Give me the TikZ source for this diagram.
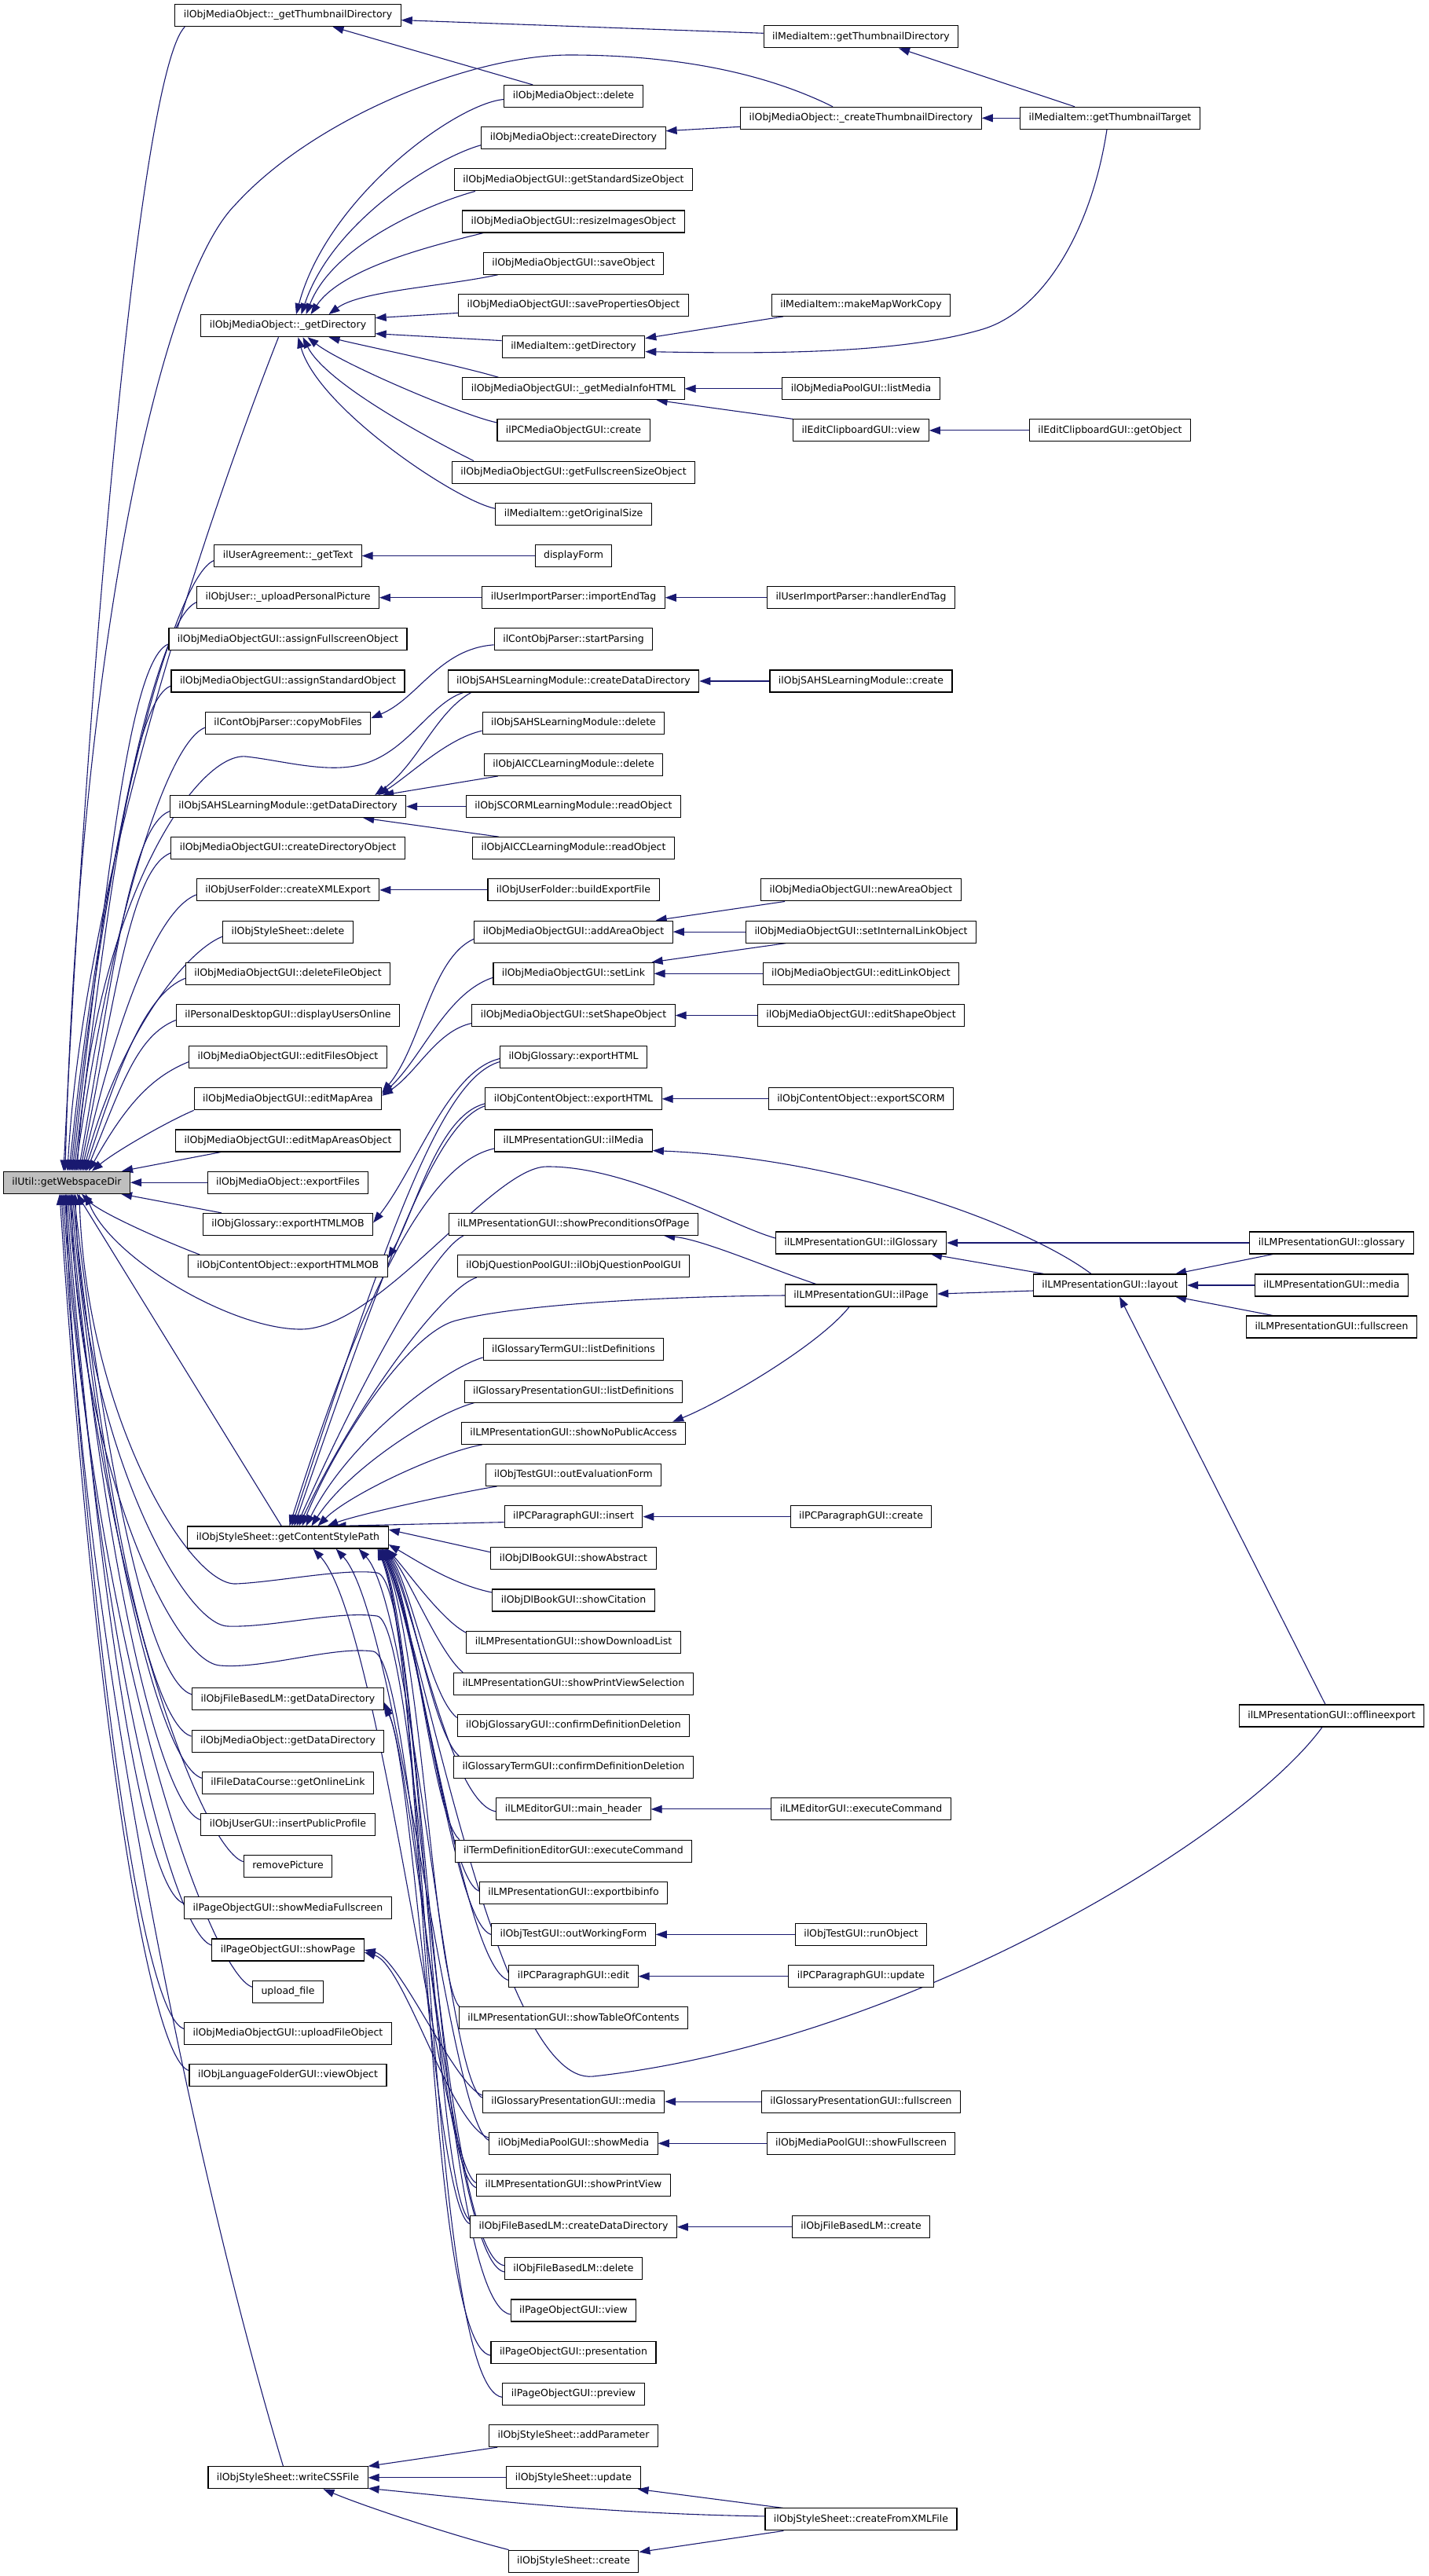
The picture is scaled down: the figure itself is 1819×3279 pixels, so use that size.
\documentclass[tikz,border=0pt]{standalone}
\usepackage{fontspec}
\newfontfamily\dvs{DejaVu Sans}
\usetikzlibrary{arrows.meta,calc,backgrounds}
\definecolor{eblue}{HTML}{191970}
\definecolor{ngray}{HTML}{BFBFBF}
\begin{document}
\begin{tikzpicture}[x=1pt,y=-1pt,
  fn/.style={draw=black, line width=1.1pt, fill=white, font=\dvs\fontsize{12.5pt}{15pt}\selectfont,
    inner xsep=11pt, inner ysep=0pt, minimum height=28pt, text height=9.5pt, text depth=3pt},
  hl/.style={fn, fill=ngray},
  e/.style={draw=eblue, line width=1.1pt, -{Triangle[length=14pt,width=10pt]}}]
\useasboundingbox (0,0) rectangle (1819,3279);
% ---------- column 1
\node[hl] (util) at (85,1505.2) {ilUtil::getWebspaceDir};
% ---------- column 2
\node[fn] (gtd) at (366.5,19.6) {ilObjMediaObject::\_getThumbnailDirectory};
\node[fn] (gd) at (366.5,414.7) {ilObjMediaObject::\_getDirectory};
\node[fn] (uaText) at (366.5,707.5) {ilUserAgreement::\_getText};
\node[fn] (upPic) at (366.5,760.7) {ilObjUser::\_uploadPersonalPicture};
\node[fn] (asFull) at (366.5,813.8) {ilObjMediaObjectGUI::assignFullscreenObject};
\node[fn] (asStd) at (366.5,867.0) {ilObjMediaObjectGUI::assignStandardObject};
\node[fn] (copyMob) at (366.5,920.2) {ilContObjParser::copyMobFiles};
\node[fn] (sahsGDD) at (366.5,1026.6) {ilObjSAHSLearningModule::getDataDirectory};
\node[fn] (crDirObj) at (366.5,1079.7) {ilObjMediaObjectGUI::createDirectoryObject};
\node[fn] (crXML) at (366.5,1132.9) {ilObjUserFolder::createXMLExport};
\node[fn] (ssDel) at (366.5,1186.1) {ilObjStyleSheet::delete};
\node[fn] (delFile) at (366.5,1239.3) {ilObjMediaObjectGUI::deleteFileObject};
\node[fn] (dispUsers) at (366.5,1292.5) {ilPersonalDesktopGUI::displayUsersOnline};
\node[fn] (editFiles) at (366.5,1345.6) {ilObjMediaObjectGUI::editFilesObject};
\node[fn] (editMap) at (366.5,1398.8) {ilObjMediaObjectGUI::editMapArea};
\node[fn] (editMaps) at (366.5,1452.0) {ilObjMediaObjectGUI::editMapAreasObject};
\node[fn] (expFiles) at (366.5,1505.2) {ilObjMediaObject::exportFiles};
\node[fn] (gHM) at (366.5,1558.4) {ilObjGlossary::exportHTMLMOB};
\node[fn] (cHM) at (366.5,1611.5) {ilObjContentObject::exportHTMLMOB};
\node[fn] (gcsp) at (366.5,1957.0) {ilObjStyleSheet::getContentStylePath};
\node[fn] (fbGDD) at (366.5,2162.9) {ilObjFileBasedLM::getDataDirectory};
\node[fn] (moGDD) at (366.5,2216.1) {ilObjMediaObject::getDataDirectory};
\node[fn] (onLink) at (366.5,2269.3) {ilFileDataCourse::getOnlineLink};
\node[fn] (insPP) at (366.5,2322.5) {ilObjUserGUI::insertPublicProfile};
\node[fn] (remPic) at (366.5,2375.7) {removePicture};
\node[fn] (showMF) at (366.5,2428.8) {ilPageObjectGUI::showMediaFullscreen};
\node[fn] (showPage) at (366.5,2482.0) {ilPageObjectGUI::showPage};
\node[fn] (upFile) at (366.5,2535.2) {upload\_file};
\node[fn] (upFO) at (366.5,2588.4) {ilObjMediaObjectGUI::uploadFileObject};
\node[fn] (viewObj) at (366.5,2641.6) {ilObjLanguageFolderGUI::viewObject};
\node[fn] (css) at (366.5,3153.8) {ilObjStyleSheet::writeCSSFile};
% ---------- column 3
\node[fn] (moDel) at (730,122.5) {ilObjMediaObject::delete};
\node[fn] (moCrDir) at (730,175.7) {ilObjMediaObject::createDirectory};
\node[fn] (getStd) at (730,228.9) {ilObjMediaObjectGUI::getStandardSizeObject};
\node[fn] (resize) at (730,282.0) {ilObjMediaObjectGUI::resizeImagesObject};
\node[fn] (saveObj) at (730,335.2) {ilObjMediaObjectGUI::saveObject};
\node[fn] (saveProp) at (730,388.4) {ilObjMediaObjectGUI::savePropertiesObject};
\node[fn] (miGetDir) at (730,441.6) {ilMediaItem::getDirectory};
\node[fn] (mInfo) at (730,494.8) {ilObjMediaObjectGUI::\_getMediaInfoHTML};
\node[fn] (pcmCreate) at (730,547.9) {ilPCMediaObjectGUI::create};
\node[fn] (getFull) at (730,601.1) {ilObjMediaObjectGUI::getFullscreenSizeObject};
\node[fn] (origSize) at (730,654.3) {ilMediaItem::getOriginalSize};
\node[fn] (dispForm) at (730,707.5) {displayForm};
\node[fn] (impEnd) at (730,760.7) {ilUserImportParser::importEndTag};
\node[fn] (startParse) at (730,813.8) {ilContObjParser::startParsing};
\node[fn] (sahsCDD) at (730,867.0) {ilObjSAHSLearningModule::createDataDirectory};
\node[fn] (sahsDel) at (730,920.2) {ilObjSAHSLearningModule::delete};
\node[fn] (aiccDel) at (730,973.4) {ilObjAICCLearningModule::delete};
\node[fn] (scormRead) at (730,1026.6) {ilObjSCORMLearningModule::readObject};
\node[fn] (aiccRead) at (730,1079.7) {ilObjAICCLearningModule::readObject};
\node[fn] (buildExp) at (730,1132.9) {ilObjUserFolder::buildExportFile};
\node[fn] (addArea) at (730,1186.1) {ilObjMediaObjectGUI::addAreaObject};
\node[fn] (setLink) at (730,1239.3) {ilObjMediaObjectGUI::setLink};
\node[fn] (setShape) at (730,1292.5) {ilObjMediaObjectGUI::setShapeObject};
\node[fn] (glosExp) at (730,1345.6) {ilObjGlossary::exportHTML};
\node[fn] (coExp) at (730,1398.8) {ilObjContentObject::exportHTML};
\node[fn] (ilMedia) at (730,1452.0) {ilLMPresentationGUI::ilMedia};
\node[fn] (showPre) at (730,1558.4) {ilLMPresentationGUI::showPreconditionsOfPage};
\node[fn] (qpool) at (730,1611.5) {ilObjQuestionPoolGUI::ilObjQuestionPoolGUI};
\node[fn] (termList) at (730,1717.9) {ilGlossaryTermGUI::listDefinitions};
\node[fn] (gpList) at (730,1771.1) {ilGlossaryPresentationGUI::listDefinitions};
\node[fn] (noPub) at (730,1824.3) {ilLMPresentationGUI::showNoPublicAccess};
\node[fn] (outEval) at (730,1877.4) {ilObjTestGUI::outEvaluationForm};
\node[fn] (pcIns) at (730,1930.6) {ilPCParagraphGUI::insert};
\node[fn] (abstract) at (730,1983.8) {ilObjDlBookGUI::showAbstract};
\node[fn] (citation) at (730,2037.0) {ilObjDlBookGUI::showCitation};
\node[fn] (dlList) at (730,2090.2) {ilLMPresentationGUI::showDownloadList};
\node[fn] (pvSel) at (730,2143.3) {ilLMPresentationGUI::showPrintViewSelection};
\node[fn] (ogConf) at (730,2196.5) {ilObjGlossaryGUI::confirmDefinitionDeletion};
\node[fn] (gtConf) at (730,2249.7) {ilGlossaryTermGUI::confirmDefinitionDeletion};
\node[fn] (mainHead) at (730,2302.9) {ilLMEditorGUI::main\_header};
\node[fn] (tdExec) at (730,2356.1) {ilTermDefinitionEditorGUI::executeCommand};
\node[fn] (bib) at (730,2409.2) {ilLMPresentationGUI::exportbibinfo};
\node[fn] (outWork) at (730,2462.4) {ilObjTestGUI::outWorkingForm};
\node[fn] (pcEdit) at (730,2515.6) {ilPCParagraphGUI::edit};
\node[fn] (toc) at (730,2568.8) {ilLMPresentationGUI::showTableOfContents};
\node[fn] (gpMedia) at (730,2675.1) {ilGlossaryPresentationGUI::media};
\node[fn] (mpShow) at (730,2728.3) {ilObjMediaPoolGUI::showMedia};
\node[fn] (printView) at (730,2781.5) {ilLMPresentationGUI::showPrintView};
\node[fn] (fbCDD) at (730,2834.7) {ilObjFileBasedLM::createDataDirectory};
\node[fn] (fbDel) at (730,2887.9) {ilObjFileBasedLM::delete};
\node[fn] (poView) at (730,2941.0) {ilPageObjectGUI::view};
\node[fn] (poPres) at (730,2994.2) {ilPageObjectGUI::presentation};
\node[fn] (poPrev) at (730,3047.4) {ilPageObjectGUI::preview};
\node[fn] (addParam) at (730,3100.6) {ilObjStyleSheet::addParameter};
\node[fn] (ssUpd) at (730,3153.8) {ilObjStyleSheet::update};
\node[fn] (ssCreate) at (730,3260.1) {ilObjStyleSheet::create};
% ---------- column 4
\node[fn] (miGTD) at (1096,46.8) {ilMediaItem::getThumbnailDirectory};
\node[fn] (moCTD) at (1096,150.3) {ilObjMediaObject::\_createThumbnailDirectory};
\node[fn] (mapCopy) at (1096,388.4) {ilMediaItem::makeMapWorkCopy};
\node[fn] (listMedia) at (1096,494.8) {ilObjMediaPoolGUI::listMedia};
\node[fn] (clipView) at (1096,547.9) {ilEditClipboardGUI::view};
\node[fn] (handlerEnd) at (1096,760.7) {ilUserImportParser::handlerEndTag};
\node[fn] (sahsCreate) at (1096,867.0) {ilObjSAHSLearningModule::create};
\node[fn] (newArea) at (1096,1132.9) {ilObjMediaObjectGUI::newAreaObject};
\node[fn] (setIntLink) at (1096,1186.1) {ilObjMediaObjectGUI::setInternalLinkObject};
\node[fn] (editLink) at (1096,1239.3) {ilObjMediaObjectGUI::editLinkObject};
\node[fn] (editShape) at (1096,1292.5) {ilObjMediaObjectGUI::editShapeObject};
\node[fn] (expScorm) at (1096,1398.8) {ilObjContentObject::exportSCORM};
\node[fn] (ilGloss) at (1096,1582) {ilLMPresentationGUI::ilGlossary};
\node[fn] (ilPage) at (1096,1649) {ilLMPresentationGUI::ilPage};
\node[fn] (pcCreate) at (1096,1930.6) {ilPCParagraphGUI::create};
\node[fn] (edExec) at (1096,2302.9) {ilLMEditorGUI::executeCommand};
\node[fn] (runObj) at (1096,2462.4) {ilObjTestGUI::runObject};
\node[fn] (pcUpd) at (1096,2515.6) {ilPCParagraphGUI::update};
\node[fn] (gpFull) at (1096,2675.1) {ilGlossaryPresentationGUI::fullscreen};
\node[fn] (mpFull) at (1096,2728.3) {ilObjMediaPoolGUI::showFullscreen};
\node[fn] (fbCreate) at (1096,2834.7) {ilObjFileBasedLM::create};
\node[fn] (fromXML) at (1096,3206.9) {ilObjStyleSheet::createFromXMLFile};
% ---------- column 5
\node[fn] (gtt) at (1413,150.3) {ilMediaItem::getThumbnailTarget};
\node[fn] (clipGet) at (1413,547.9) {ilEditClipboardGUI::getObject};
\node[fn] (layout) at (1413,1636) {ilLMPresentationGUI::layout};
% ---------- column 6
\node[fn] (lmGloss) at (1695,1582) {ilLMPresentationGUI::glossary};
\node[fn] (lmMedia) at (1695,1636) {ilLMPresentationGUI::media};
\node[fn] (lmFull) at (1695,1689) {ilLMPresentationGUI::fullscreen};
\node[fn] (offline) at (1695,2184) {ilLMPresentationGUI::offlineexport};

\begin{pgfonlayer}{background}
% ---------- top group
\draw[e] ($(miGTD.west)+(0,-4.5)$) -- ($(gtd.east)+(0,6)$);
\draw[e] ($(moDel.north west)+(37,0)$) -- ($(gtd.south)+(57,0)$);
\draw[e] ($(gtt.north)+(-45,0)$) -- ($(miGTD.south)+(48,0)$);
\draw[e] (gtt.west) -- (moCTD.east);
\draw[e] ($(moCTD.west)+(0,11)$) -- ($(moCrDir.east)+(0,-9)$);
\draw[e] ($(moCTD.north)+(-36,0)$) .. controls (970,91) and (855,70) .. (725,70) .. controls (600,70) and (400,150) .. (300,260) .. controls (200,360) and (100,850) .. ($(util.north west)+(79,0)$);
\draw[e] ($(gtd.south west)+(13,0)$) .. controls (180,90) and (115,800) .. ($(util.north west)+(77,0)$);
\draw[e] ($(gd.south)+(-12,0)$) .. controls (295,580) and (108,1091) .. ($(util.north west)+(82,0)$);
% ---------- callers of _getDirectory
\draw[e] ($(moDel.west)+(0,4)$) .. controls +(-60,5) and +(40,-150) .. ($(gd.north)+(10.5,0)$);
\draw[e] ($(moCrDir.west)+(0,9)$) .. controls +(-55,15) and +(40,-120) .. ($(gd.north)+(17,0)$);
\draw[e] ($(getStd.south west)+(27,0)$) .. controls +(-55,15) and +(35,-90) .. ($(gd.north)+(23,0)$);
\draw[e] ($(resize.south west)+(27,0)$) .. controls +(-60,15) and +(40,-60) .. ($(gd.north)+(29,0)$);
\draw[e] ($(saveObj.south west)+(19,0)$) .. controls +(-70,15) and +(40,-30) .. ($(gd.north)+(52,0)$);
\draw[e] ($(saveProp.west)+(0,10)$) -- ($(gd.east)+(0,-10)$);
\draw[e] ($(miGetDir.west)+(0,-8)$) -- ($(gd.east)+(0,10)$);
\draw[e] ($(mInfo.north west)+(46,0)$) .. controls +(-50,-15) and +(40,10) .. ($(gd.south)+(52,0)$);
\draw[e] ($(pcmCreate.west)+(0,-10)$) .. controls +(-40,-8) and +(45,35) .. ($(gd.south)+(25,0)$);
\draw[e] ($(getFull.north west)+(28,0)$) .. controls +(-50,-25) and +(30,60) .. ($(gd.south)+(19,0)$);
\draw[e] ($(origSize.west)+(0,-7)$) .. controls +(-50,-10) and +(25,90) .. ($(gd.south)+(13,0)$);
% ---------- ilMediaItem::getDirectory and friends
\draw[e] ($(mapCopy.south west)+(15,0)$) -- ($(miGetDir.east)+(0,-11)$);
\draw[e] ($(gtt.south)+(-4,0)$) .. controls (1390,290) and (1330,395) .. (1251,419) .. controls (1141,452) and (960,450) .. ($(miGetDir.east)+(0,6)$);
\draw[e] (listMedia.west) -- (mInfo.east);
\draw[e] (clipView.north west) -- ($(mInfo.south east)+(-36,0)$);
\draw[e] (clipGet.west) -- (clipView.east);
% ---------- rows 11-24
\draw[e] (dispForm.west) -- (uaText.east);
\draw[e] (impEnd.west) -- (upPic.east);
\draw[e] (handlerEnd.west) -- (impEnd.east);
\draw[e] ($(startParse.west)+(0,7)$) .. controls +(-70,5) and +(60,-25) .. ($(copyMob.east)+(0,-6)$);
\draw[e] ($(sahsCDD.south west)+(30,0)$) .. controls +(-45,25) and +(55,-40) .. ($(sahsGDD.north east)+(-40,0)$);
\draw[e] ($(sahsCDD.south west)+(20,0)$) .. controls (548,895) and (520,955) .. (464,972) .. controls (419,986) and (360,968) .. (313,963) .. controls (250,957) and (120,1150) .. ($(util.north west)+(94,0)$);
\draw[e] ($(sahsDel.west)+(0,10)$) .. controls +(-45,10) and +(40,-25) .. ($(sahsGDD.north east)+(-36,0)$);
\draw[e] ($(aiccDel.south west)+(18,0)$) -- ($(sahsGDD.north east)+(-30,0)$);
\draw[e] (scormRead.west) -- (sahsGDD.east);
\draw[e] ($(aiccRead.north west)+(34,0)$) -- ($(sahsGDD.south east)+(-55,0)$);
\draw[e] (sahsCreate.west) -- (sahsCDD.east);
\draw[e] (buildExp.west) -- (crXML.east);
\draw[e] ($(newArea.south west)+(31,0)$) -- ($(addArea.north east)+(-22,0)$);
\draw[e] (setIntLink.west) -- (addArea.east);
\draw[e] ($(setIntLink.south west)+(51,0)$) -- ($(setLink.north east)+(-3,0)$);
\draw[e] (editLink.west) -- (setLink.east);
\draw[e] (editShape.west) -- (setShape.east);
\draw[e] ($(addArea.west)+(0,9)$) .. controls +(-55,25) and +(50,-60) .. ($(editMap.east)+(0,-8)$);
\draw[e] ($(setLink.west)+(0,5)$) .. controls +(-60,20) and +(50,-45) .. ($(editMap.east)+(0,-6)$);
\draw[e] ($(setShape.west)+(0,10)$) .. controls +(-45,10) and +(45,-30) .. ($(editMap.east)+(0,-4)$);
\draw[e] ($(glosExp.west)+(0,2)$) .. controls +(-65,15) and +(55,-70) .. ($(gHM.east)+(0,-2)$);
\draw[e] ($(coExp.west)+(0,6)$) .. controls +(-60,15) and +(35,-60) .. ($(cHM.east)+(0,-10)$);
\draw[e] (expScorm.west) -- (coExp.east);
% ---------- upper col2 -> ilUtil
\draw[e] ($(uaText.west)+(0,6)$) .. controls +(-50,20) and +(45,-431) .. ($(util.north west)+(84,0)$);
\draw[e] ($(upPic.west)+(0,6)$) .. controls +(-50,20) and +(45,-402) .. ($(util.north west)+(86,0)$);
\draw[e] ($(asFull.west)+(0,6)$) .. controls +(-50,20) and +(45,-372) .. ($(util.north west)+(88,0)$);
\draw[e] ($(asStd.west)+(0,6)$) .. controls +(-50,20) and +(45,-343) .. ($(util.north west)+(90,0)$);
\draw[e] ($(copyMob.west)+(0,6)$) .. controls +(-50,20) and +(45,-314) .. ($(util.north west)+(92,0)$);
\draw[e] ($(sahsGDD.west)+(0,6)$) .. controls +(-50,20) and +(45,-255) .. ($(util.north west)+(96,0)$);
\draw[e] ($(crDirObj.west)+(0,6)$) .. controls +(-50,20) and +(45,-226) .. ($(util.north west)+(98,0)$);
\draw[e] ($(crXML.west)+(0,6)$) .. controls +(-50,20) and +(45,-197) .. ($(util.north west)+(100,0)$);
\draw[e] ($(ssDel.west)+(0,6)$) .. controls +(-50,20) and +(45,-168) .. ($(util.north west)+(102,0)$);
\draw[e] ($(delFile.west)+(0,6)$) .. controls +(-50,20) and +(45,-138) .. ($(util.north west)+(104,0)$);
\draw[e] ($(dispUsers.west)+(0,6)$) .. controls +(-50,20) and +(45,-109) .. ($(util.north west)+(106,0)$);
\draw[e] ($(editFiles.west)+(0,6)$) .. controls +(-50,20) and +(45,-80) .. ($(util.north west)+(109,0)$);
\draw[e] (editMap.south west) .. controls +(-35,15) and +(30,-25) .. ($(util.north west)+(113,0)$);
\draw[e] ($(editMaps.south west)+(58,0)$) -- ($(util.north east)+(-11,0)$);
\draw[e] (expFiles.west) -- (util.east);
\draw[e] ($(gHM.north west)+(24,0)$) -- ($(util.south east)+(-12,0)$);
\draw[e] ($(cHM.north west)+(15,0)$) .. controls +(-40,-15) and +(25,25) .. ($(util.south west)+(100,0)$);
\draw[e] ($(gcsp.north west)+(120,0)$) -- ($(util.south west)+(94,0)$);
% ---------- lower col2 -> ilUtil
\draw[e] ($(fbGDD.west)+(0,-6)$) .. controls +(-50,-15) and +(45,386) .. ($(util.south west)+(90,0)$);
\draw[e] ($(moGDD.west)+(0,-6)$) .. controls +(-50,-15) and +(45,418) .. ($(util.south west)+(88,0)$);
\draw[e] ($(onLink.west)+(0,-6)$) .. controls +(-50,-15) and +(45,450) .. ($(util.south west)+(86,0)$);
\draw[e] ($(insPP.west)+(0,-6)$) .. controls +(-50,-15) and +(45,482) .. ($(util.south west)+(84,0)$);
\draw[e] ($(remPic.west)+(0,-6)$) .. controls +(-50,-15) and +(45,514) .. ($(util.south west)+(82,0)$);
\draw[e] ($(showMF.west)+(0,-6)$) .. controls +(-50,-15) and +(45,546) .. ($(util.south west)+(80,0)$);
\draw[e] ($(showPage.west)+(0,-6)$) .. controls +(-50,-15) and +(45,578) .. ($(util.south west)+(78,0)$);
\draw[e] ($(upFile.west)+(0,-6)$) .. controls +(-50,-15) and +(45,610) .. ($(util.south west)+(76,0)$);
\draw[e] ($(upFO.west)+(0,-6)$) .. controls +(-50,-15) and +(45,642) .. ($(util.south west)+(74,0)$);
\draw[e] ($(viewObj.west)+(0,-6)$) .. controls +(-50,-15) and +(45,674) .. ($(util.south west)+(72,0)$);
\draw[e] ($(css.north)+(-6,0)$) .. controls (240,2740) and (95,2019) .. ($(util.south west)+(80,0)$);
% ---------- ilLMPresentationGUI group
\draw[e] ($(ilGloss.west)+(0,-6)$) .. controls (930,1560) and (800,1484) .. (696,1485) .. controls (626,1485) and (483,1692) .. (383,1692) .. controls (293,1692) and (140,1600) .. ($(util.south west)+(105,0)$);
\draw[e] ($(ilPage.north west)+(40,0)$) .. controls +(-60,-20) and +(50,5) .. ($(showPre.south east)+(-44,0)$);
\draw[e] ($(ilPage.south)+(-15,0)$) .. controls +(-40,50) and +(60,-24) .. ($(noPub.north east)+(-17,0)$);
\draw[e] ($(layout.north)+(-24,0)$) .. controls +(-80,-60) and +(250,10) .. ($(ilMedia.south east)+(0,-2)$);
\draw[e] ($(layout.north west)+(14,0)$) -- ($(ilGloss.south east)+(-20,0)$);
\draw[e] (lmGloss.west) -- (ilGloss.east);
\draw[e] ($(layout.west)+(0,7)$) -- ($(ilPage.east)+(0,-2)$);
\draw[e] ($(lmGloss.south west)+(30,0)$) -- ($(layout.north east)+(-15,0)$);
\draw[e] (lmMedia.west) -- (layout.east);
\draw[e] ($(lmFull.north west)+(34,0)$) -- ($(layout.south east)+(-15,0)$);
\draw[e] ($(offline.north)+(-8,0)$) -- ($(layout.south)+(12,0)$);
% ---------- getContentStylePath (from above)
\draw[e] ($(ilMedia.west)+(0,10)$) .. controls +(-70,15) and +(110,-350) .. ($(gcsp.north)+(2,0)$);
\draw[e] ($(glosExp.west)+(0,6)$) .. controls +(-70,20) and +(130,-400) .. ($(gcsp.north)+(5,0)$);
\draw[e] ($(coExp.west)+(0,9)$) .. controls +(-60,20) and +(120,-350) .. ($(gcsp.north)+(8,0)$);
\draw[e] ($(showPre.south west)+(19,0)$) .. controls +(-40,20) and +(80,-180) .. ($(gcsp.north)+(11,0)$);
\draw[e] ($(qpool.south west)+(25,0)$) .. controls +(-45,15) and +(70,-150) .. ($(gcsp.north)+(14,0)$);
\draw[e] (ilPage.west) .. controls (850,1650) and (660,1660) .. (580,1681) .. controls (520,1697) and (429.5,1833) .. ($(gcsp.north)+(18,0)$);
\draw[e] ($(termList.west)+(0,10)$) .. controls +(-50,15) and +(55,-110) .. ($(gcsp.north)+(23,0)$);
\draw[e] ($(gpList.south west)+(13,0)$) .. controls +(-55,15) and +(45,-70) .. ($(gcsp.north)+(30,0)$);
\draw[e] ($(noPub.south west)+(27,0)$) .. controls +(-55,10) and +(40,-40) .. ($(gcsp.north)+(38,0)$);
\draw[e] ($(outEval.south west)+(15,0)$) .. controls +(-50,8) and +(40,-15) .. ($(gcsp.north)+(50,0)$);
\draw[e] ($(pcIns.west)+(0,7)$) -- ($(gcsp.north)+(60,0)$);
\draw[e] (pcCreate.west) -- (pcIns.east);
\draw[e] ($(abstract.west)+(0,-8)$) -- ($(gcsp.east)+(0,-10)$);
\draw[e] ($(citation.west)+(0,-10)$) .. controls +(-50,-10) and +(35,20) .. ($(gcsp.east)+(0,9)$);
% ---------- getContentStylePath (from below)
\draw[e] ($(offline.south)+(-12,0)$) .. controls (1580,2340) and (1150,2600) .. (755,2643) .. controls (635,2656) and (540,2100) .. ($(gcsp.south east)+(-8,0)$);
\draw[e] ($(dlList.west)+(0,-12)$) .. controls (563,2063) and (519,2001) .. ($(gcsp.south east)+(-2,0)$);
\draw[e] ($(pvSel.north west)+(12,0)$) .. controls (560,2105) and (521,2010) .. ($(gcsp.south east)+(-3,0)$);
\draw[e] ($(ogConf.west)+(0,-10)$) .. controls (548,2160) and (523,2020) .. ($(gcsp.south east)+(-4,0)$);
\draw[e] ($(gtConf.north west)+(7,0)$) .. controls (550,2205) and (525,2030) .. ($(gcsp.south east)+(-5,0)$);
\draw[e] ($(mainHead.west)+(0,3)$) .. controls (572,2296) and (527,2040) .. ($(gcsp.south east)+(-6,0)$);
\draw[e] ($(tdExec.north west)+(6,0)$) .. controls (550,2310) and (529,2050) .. ($(gcsp.south east)+(-7,0)$);
\draw[e] ($(bib.west)+(0,-2)$) .. controls (567,2390) and (531,2060) .. ($(gcsp.south east)+(-8,0)$);
\draw[e] (outWork.west) .. controls (576,2448) and (533,2070) .. ($(gcsp.south east)+(-9,0)$);
\draw[e] ($(pcEdit.west)+(0,5)$) .. controls (590,2505) and (535,2080) .. ($(gcsp.south east)+(-10,0)$);
\draw[e] ($(toc.north west)+(1,0)$) .. controls (552,2522) and (537,2090) .. ($(gcsp.south east)+(-11,0)$);
\draw[e] ($(poView.west)+(0,5)$) .. controls (560,2930) and (540,2110) .. ($(gcsp.south east)+(-12,0)$);
\draw[e] ($(poPres.west)+(0,4)$) .. controls (540,2985) and (542,2120) .. ($(gcsp.south east)+(-13,0)$);
\draw[e] ($(poPrev.west)+(0,4)$) .. controls (548,3040) and (544,2130) .. ($(gcsp.south east)+(-14,0)$);
\draw[e] ($(gpMedia.west)+(0,-5)$) .. controls (568,2650) and (525,2045) .. ($(gcsp.south east)+(-38,0)$);
\draw[e] ($(mpShow.west)+(0,-4)$) .. controls (573,2705) and (505,2055) .. ($(gcsp.south east)+(-67,0)$);
\draw[e] ($(printView.west)+(0,-3)$) .. controls (561,2760) and (485,2065) .. ($(gcsp.south east)+(-96,0)$);
% ---------- showPage, FileBasedLM
\draw[e] ($(gpMedia.west)+(0,-8)$) .. controls (578,2654) and (509,2492) .. (showPage.east);
\draw[e] ($(mpShow.west)+(0,-7)$) .. controls (573,2705) and (515,2500) .. ($(showPage.east)+(0,3)$);
\draw[e] ($(fbCDD.west)+(0,-4)$) .. controls (555,2815) and (525,2240) .. ($(fbGDD.east)+(0,8)$);
\draw[e] ($(fbDel.west)+(0,4)$) .. controls (575,2880) and (530,2260) .. ($(fbGDD.east)+(0,4)$);
\draw[e] ($(fbCDD.west)+(0,-9)$) .. controls (552,2800) and (535,2010) .. (480,2002) .. controls (440,1996) and (350,2014) .. (300,2016) .. controls (240,2018) and (110,1800) .. ($(util.south west)+(97,0)$);
\draw[e] ($(fbDel.west)+(0,-4)$) .. controls (560,2870) and (532,2065) .. (480,2057) .. controls (430,2050) and (345,2072) .. (290,2070) .. controls (230,2068) and (103,1820) .. ($(util.south west)+(92,0)$);
\draw[e] ($(printView.west)+(0,3)$) .. controls (555,2770) and (525,2110) .. (475,2102) .. controls (425,2095) and (335,2125) .. (280,2120) .. controls (215,2115) and (96,1840) .. ($(util.south west)+(87,0)$);
% ---------- right-hand horizontals
\draw[e] (edExec.west) -- (mainHead.east);
\draw[e] (runObj.west) -- (outWork.east);
\draw[e] (pcUpd.west) -- (pcEdit.east);
\draw[e] (gpFull.west) -- (gpMedia.east);
\draw[e] (mpFull.west) -- (mpShow.east);
\draw[e] (fbCreate.west) -- (fbCDD.east);
% ---------- writeCSSFile
\draw[e] ($(addParam.south west)+(11,0)$) -- (css.north east);
\draw[e] (ssUpd.west) -- (css.east);
\draw[e] ($(fromXML.west)+(0,-4)$) .. controls +(-200,-3) and +(150,15) .. ($(css.south east)+(0,-1)$);
\draw[e] ($(ssCreate.north west)+(1,0)$) .. controls +(-60,-15) and +(60,25) .. ($(css.south)+(45,0)$);
\draw[e] ($(fromXML.north west)+(23,0)$) -- ($(ssUpd.south east)+(-4,0)$);
\draw[e] ($(fromXML.south west)+(24,0)$) -- ($(ssCreate.north east)+(0,3)$);
\end{pgfonlayer}
\end{tikzpicture}
\end{document}
